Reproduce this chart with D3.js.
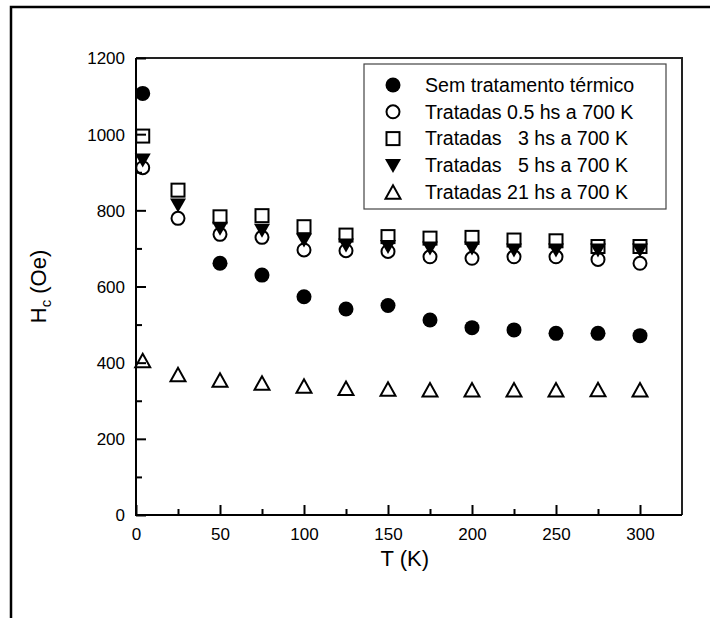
<!DOCTYPE html>
<html>
<head>
<meta charset="utf-8">
<script src="https://cdn.jsdelivr.net/npm/d3@7"></script>
<style>
  body { margin: 0; background: #fff; }
  text { font-family: "Liberation Sans", Arial, sans-serif; fill: #000; }
</style>
</head>
<body>
<div id="chart"></div>
<script>
// data
var temps = [4, 25, 50, 75, 100, 125, 150, 175, 200, 225, 250, 275, 300];
var tempsSem = [4, 50, 75, 100, 125, 150, 175, 200, 225, 250, 275, 300];
var hcSem = [1107, 661, 630, 573, 541, 550, 512, 492, 486, 477, 477, 471];
var hc05 = [912, 779, 737, 729, 696, 694, 692, 678, 674, 678, 678, 671, 661];
var hc3 = [995, 853, 783, 786, 757, 735, 731, 727, 729, 722, 720, 705, 705];
var hc5 = [932, 814, 753, 748, 722, 709, 705, 701, 701, 696, 696, 696, 696];
var hc21 = [405, 368, 354, 346, 338, 332, 330, 328, 328, 328, 328, 329, 328];
var legendLabels = [
  "Sem tratamento térmico",
  "Tratadas 0.5 hs a 700 K",
  "Tratadas   3 hs a 700 K",
  "Tratadas   5 hs a 700 K",
  "Tratadas 21 hs a 700 K"
];
var xTicks = [0, 50, 100, 150, 200, 250, 300];
var yTicks = [0, 200, 400, 600, 800, 1000, 1200];

var svgWidth = 710;
var svgHeight = 618;
var margin = { top: 58, right: 28, bottom: 103, left: 136 };
var width = svgWidth - margin.left - margin.right;
var height = svgHeight - margin.top - margin.bottom;

var svg = d3.select("#chart")
  .append("svg")
  .attr("width", svgWidth)
  .attr("height", svgHeight);

// outer frame (only top/left visible)
svg.append("path")
  .attr("d", "M11,618V7H710")
  .attr("fill", "none")
  .attr("stroke", "#000")
  .attr("stroke-width", 2.5);

var chartGroup = svg.append("g")
  .attr("transform", `translate(${margin.left}, ${margin.top})`);

var xScale = d3.scaleLinear().domain([0, 325]).range([0, width]);
var yScale = d3.scaleLinear().domain([0, 1200]).range([height, 0]);

// box top/right
chartGroup.append("path")
  .attr("d", `M0,0H${width}V${height}`)
  .attr("fill", "none")
  .attr("stroke", "#222")
  .attr("stroke-width", 2);

// minor ticks
var xAxisMinor = d3.axisBottom(xScale)
  .tickValues(d3.range(25, 325, 50))
  .tickSizeInner(-6).tickSizeOuter(0).tickFormat("");
var yAxisMinor = d3.axisLeft(yScale)
  .tickValues(d3.range(100, 1200, 200))
  .tickSizeInner(-6).tickSizeOuter(0).tickFormat("");

var xAxis = d3.axisBottom(xScale)
  .tickValues(xTicks)
  .tickFormat(d3.format("d"))
  .tickSizeInner(-10).tickSizeOuter(0).tickPadding(13);
var yAxis = d3.axisLeft(yScale)
  .tickValues(yTicks)
  .tickFormat(d3.format("d"))
  .tickSizeInner(-10).tickSizeOuter(0).tickPadding(11);

chartGroup.append("g").attr("transform", `translate(0, ${height})`).call(xAxisMinor);
chartGroup.append("g").call(yAxisMinor);
var gx = chartGroup.append("g").attr("transform", `translate(0, ${height})`).call(xAxis);
var gy = chartGroup.append("g").call(yAxis);

chartGroup.selectAll(".domain").remove();
chartGroup.selectAll(".tick line").attr("stroke", "#000").attr("stroke-width", 2);
gx.selectAll("text").style("font-size", "17px");
gy.selectAll("text").style("font-size", "17px").attr("dy", "0.35em");

// axis lines left/bottom
chartGroup.append("path")
  .attr("d", `M0,0V${height}H${width}`)
  .attr("fill", "none")
  .attr("stroke", "#000")
  .attr("stroke-width", 2);

// axis titles
chartGroup.append("text")
  .attr("x", xScale(160))
  .attr("y", height + 51)
  .attr("text-anchor", "middle")
  .style("font-size", "22px")
  .text("T (K)");

var yLabel = chartGroup.append("text")
  .attr("transform", `translate(${-90}, ${height / 2}) rotate(-90)`)
  .attr("text-anchor", "middle")
  .style("font-size", "22px");
yLabel.append("tspan").text("H");
yLabel.append("tspan").attr("dy", 5).style("font-size", "15px").text("c");
yLabel.append("tspan").attr("dy", -5).text(" (Oe)");

// marker drawers
function filledCircle(g, x, y) {
  g.append("circle").attr("cx", x).attr("cy", y).attr("r", 7.5).attr("fill", "#000");
}
function openCircle(g, x, y) {
  g.append("circle").attr("cx", x).attr("cy", y).attr("r", 6.5)
    .attr("fill", "none").attr("stroke", "#000").attr("stroke-width", 2);
}
function openSquare(g, x, y) {
  g.append("rect").attr("x", x - 6.5).attr("y", y - 6.5).attr("width", 13).attr("height", 13)
    .attr("fill", "none").attr("stroke", "#000").attr("stroke-width", 2);
}
function downTriangle(g, x, y) {
  g.append("path").attr("d", `M${x - 8},${y - 6.5}L${x + 8},${y - 6.5}L${x},${y + 7.5}Z`)
    .attr("fill", "#000");
}
function upTriangle(g, x, y) {
  g.append("path").attr("d", `M${x - 7.5},${y + 6.5}L${x + 7.5},${y + 6.5}L${x},${y - 7}Z`)
    .attr("fill", "none").attr("stroke", "#000").attr("stroke-width", 2).attr("stroke-linejoin", "miter");
}

var series = [
  { t: tempsSem, v: hcSem, draw: filledCircle },
  { t: temps, v: hc05, draw: openCircle },
  { t: temps, v: hc3, draw: openSquare },
  { t: temps, v: hc5, draw: downTriangle },
  { t: temps, v: hc21, draw: upTriangle }
];

var pointsGroup = chartGroup.append("g");
series.forEach(function(s) {
  s.t.forEach(function(t, i) {
    s.draw(pointsGroup, xScale(t), yScale(s.v[i]));
  });
});

// legend
var legend = svg.append("g").attr("transform", "translate(364, 64)");
legend.append("rect")
  .attr("width", 302).attr("height", 145)
  .attr("fill", "#fff").attr("stroke", "#444").attr("stroke-width", 1.2);

series.forEach(function(s, i) {
  var cy = 21 + i * 26.8;
  s.draw(legend, 29, cy);
  legend.append("text")
    .attr("x", 61)
    .attr("y", cy)
    .attr("dy", "0.35em")
    .style("font-size", "19.6px")
    .style("white-space", "pre")
    .attr("xml:space", "preserve")
    .text(legendLabels[i]);
});
</script>
</body>
</html>
